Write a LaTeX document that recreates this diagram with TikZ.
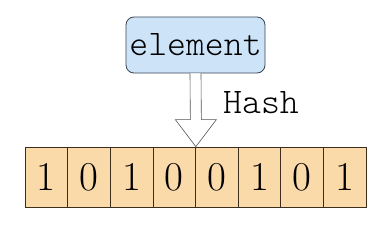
\documentclass[tikz,border=0pt]{standalone}
\usepackage{fontspec}
\newfontfamily\lightmono{Latin Modern Mono Light}
\usetikzlibrary{calc}
\definecolor{boxblue}{HTML}{CDE4F8}
\definecolor{boxedge}{HTML}{3A4350}
\definecolor{cellfill}{HTML}{FBDAAA}
\definecolor{celledge}{HTML}{3C2D1E}
\definecolor{arrowedge}{HTML}{555555}
\tikzset{
  elembox/.style={draw=boxedge, line width=0.8pt, fill=boxblue, rounded corners=8pt,
    minimum width=139pt, minimum height=56pt, inner sep=0pt, font=\lightmono\fontsize{36}{36}\selectfont},
  bitcell/.style={draw=celledge, line width=0.7pt, fill=cellfill, minimum width=42.625pt,
    minimum height=60pt, inner sep=0pt, font=\fontsize{41}{41}\selectfont},
  hollowarrow/.style={draw=arrowedge, line width=0.6pt, fill=white, line join=miter},
  lbl/.style={font=\lightmono\fontsize{36}{36}\selectfont, inner sep=0pt}
}
\begin{document}
\begin{tikzpicture}[x=1pt,y=1pt]
\useasboundingbox (0,0) rectangle (391,231);
\node[elembox] (elem) at (195.5,186) {element};
\foreach \b [count=\i] in {1,0,1,0,0,1,0,1}{
  \node[bitcell] (c\i) at ({25+42.625*(\i-0.5)},54) {\b};
}
\coordinate (tip) at (c4.north east);
\draw[hollowarrow] ($(elem.south)+(-5.5,0)$) -- ($(tip)+(-5.5,27)$) -- ($(tip)+(-20.5,27)$) -- (tip)
  -- ($(tip)+(20.5,27)$) -- ($(tip)+(5.5,27)$) -- ($(elem.south)+(5.5,0)$);
\node[lbl, anchor=base west] (hash) at (223,118) {Hash};
\end{tikzpicture}
\end{document}
